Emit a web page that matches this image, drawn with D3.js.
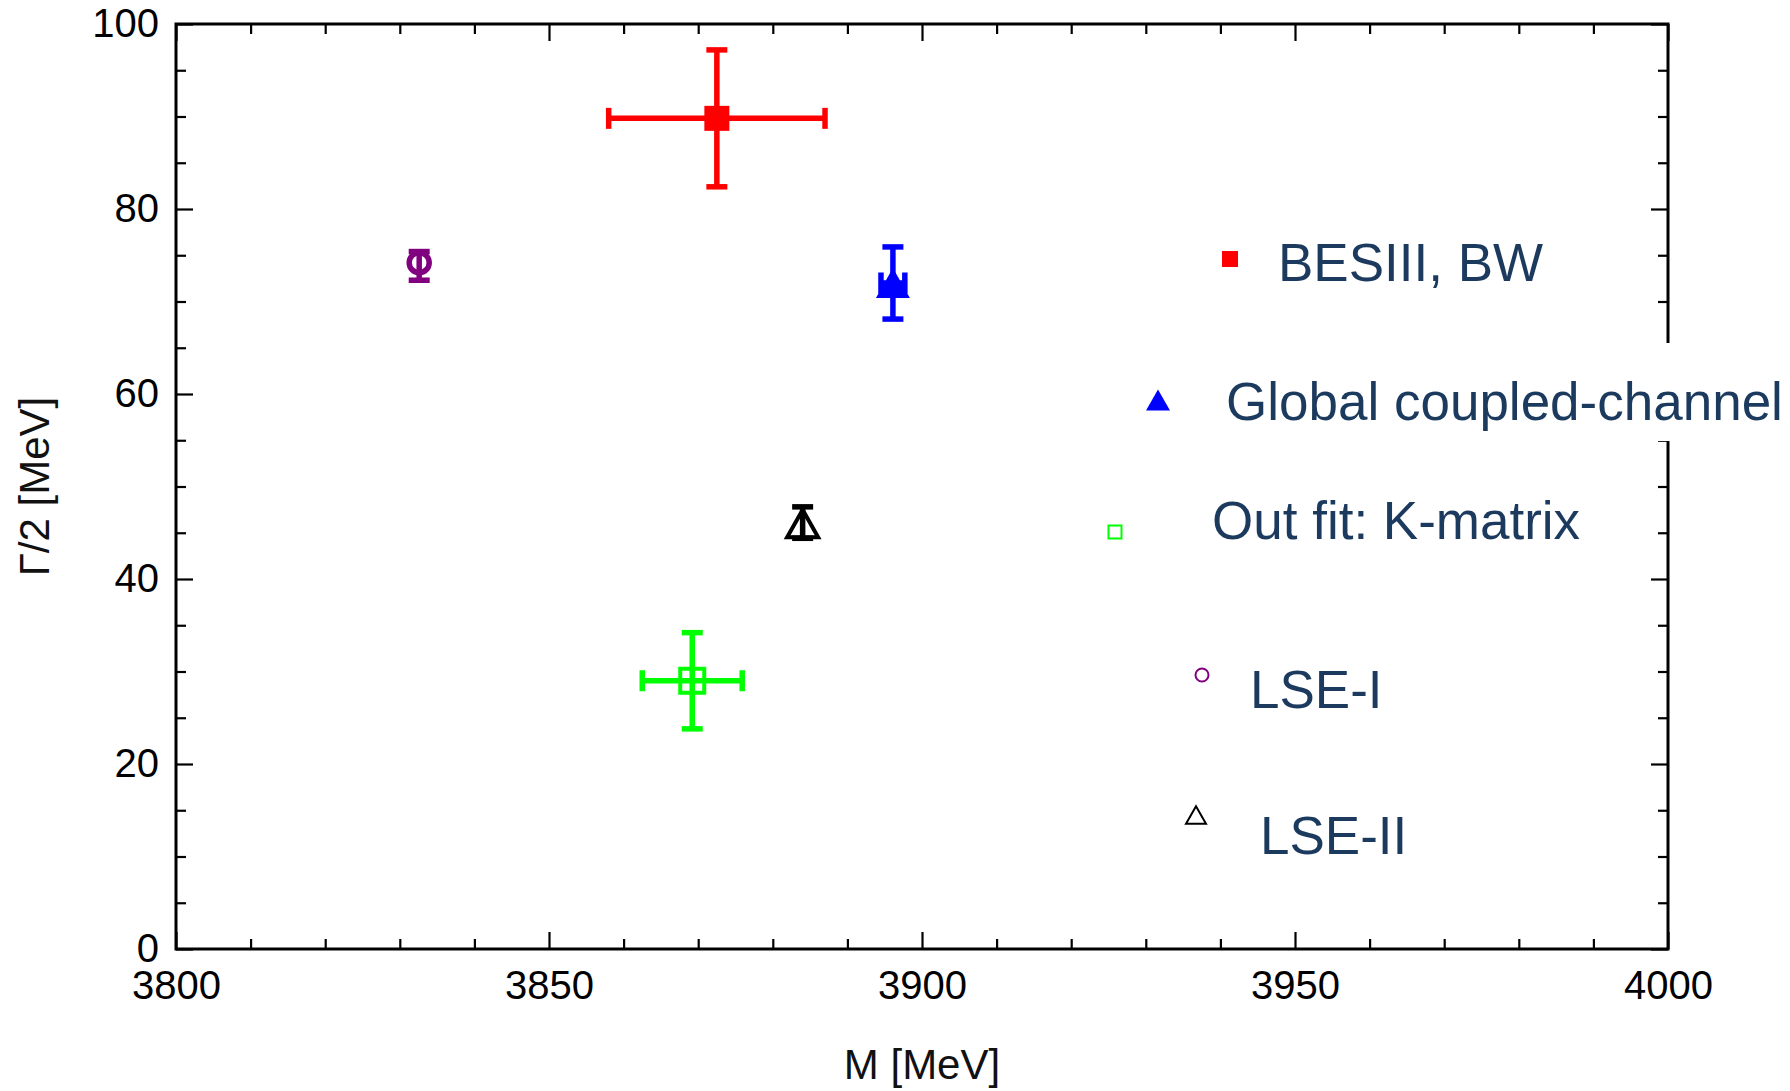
<!DOCTYPE html>
<html>
<head>
<meta charset="utf-8">
<script src="https://cdn.jsdelivr.net/npm/d3@7"></script>
<style>
  body { margin: 0; background: #fff; }
  svg { display: block; font-family: "Liberation Sans", Arial, sans-serif; }
</style>
</head>
<body>
<div id="chart"></div>
<script>
// pole positions
const labels = ['BESIII, BW', 'Global coupled-channel', 'Out fit: K-matrix', 'LSE-I', 'LSE-II'];
const mass = [3872.5, 3896.1, 3869.2, 3832.6, 3884.0];
const massErr = [14.5, 1.6, 6.7, 0, 0];
const halfWidth = [89.8, 72.0, 29.0, 74.2, 46.0];
const halfWidthErrUp = [7.4, 3.9, 5.2, 1.2, 1.8];
const halfWidthErrDown = [7.4, 3.9, 5.2, 1.9, 1.6];
const xTicks = [3800, 3850, 3900, 3950, 4000];
const yTicks = [0, 20, 40, 60, 80, 100];

const W = 1790, H = 1091;
const margin = { top: 24, right: 122, bottom: 142, left: 176 };
const width = W - margin.left - margin.right;
const height = H - margin.top - margin.bottom;

// look of each series (marker, colour)
const styles = [
    { shape: 'square', fill: 'red', stroke: 'none', color: 'red', size: 25 },
    { shape: 'triangle', fill: 'blue', stroke: 'none', color: 'blue', size: 34 },
    { shape: 'square', fill: 'none', stroke: '#00ff00', color: '#00ff00', size: 24, sw: 4 },
    { shape: 'circle', fill: 'none', stroke: 'purple', color: 'purple', size: 20, sw: 5.5 },
    { shape: 'triangle', fill: 'none', stroke: 'black', color: 'black', size: 31, sw: 4 }
];
// legend layout (pixels): marker centre, text start, baseline
const legendLayout = [
    { mx: 1230, my: 259, ms: 16, tx: 1278, ty: 281 },
    { mx: 1158, my: 400, ms: 24, tx: 1226, ty: 420 },
    { mx: 1115, my: 532, ms: 13, tx: 1212, ty: 539, sw: 2 },
    { mx: 1202, my: 675, ms: 13, tx: 1250, ty: 708, sw: 2 },
    { mx: 1196, my: 815, ms: 20, tx: 1260, ty: 854, sw: 2 }
];

const svg = d3.select('#chart').append('svg')
    .attr('width', W).attr('height', H);
const g = svg.append('g')
    .attr('transform', 'translate(' + margin.left + ',' + margin.top + ')');

const x = d3.scaleLinear().domain([3800, 4000]).range([0, width]);
const y = d3.scaleLinear().domain([0, 100]).range([height, 0]);

// frame + ticks (inward on all four sides)
const xMinor = d3.range(3800, 4001, 10).filter(v => xTicks.indexOf(v) < 0);
const yMinor = d3.range(0, 101, 5).filter(v => yTicks.indexOf(v) < 0);

function drawAxis(sel, axisFn, scale, major, minor, showLabels) {
    sel.append('g').call(axisFn(scale).tickValues(minor).tickSize(-10).tickFormat(''))
        .call(a => a.select('.domain').remove());
    const m = sel.append('g').call(axisFn(scale).tickValues(major).tickSize(-17)
        .tickFormat(showLabels ? d3.format('d') : ''));
    m.select('.domain').remove();
    sel.selectAll('line').attr('stroke', '#000').attr('stroke-width', 2.2);
    return m;
}

const bottomAx = g.append('g').attr('transform', 'translate(0,' + height + ')');
drawAxis(bottomAx, d3.axisBottom, x, xTicks, xMinor, true)
    .selectAll('text').attr('font-size', 40).attr('fill', '#000')
    .attr('y', 20).attr('dy', '0.75em');
drawAxis(g.append('g'), d3.axisTop, x, xTicks, xMinor, false);
const leftAx = g.append('g');
drawAxis(leftAx, d3.axisLeft, y, yTicks, yMinor, true)
    .selectAll('text').attr('font-size', 40).attr('fill', '#000').attr('x', -17);
drawAxis(g.append('g').attr('transform', 'translate(' + width + ',0)'), d3.axisRight, y, yTicks, yMinor, false);

g.append('rect').attr('width', width).attr('height', height)
    .attr('fill', 'none').attr('stroke', '#000').attr('stroke-width', 3);

// axis titles
svg.append('text').attr('x', margin.left + width / 2).attr('y', 1079)
    .attr('text-anchor', 'middle').attr('font-size', 42).attr('fill', '#111')
    .text('M [MeV]');
svg.append('text').attr('transform', 'translate(49,' + (margin.top + height / 2) + ') rotate(-90)')
    .attr('text-anchor', 'middle').attr('font-size', 42).attr('fill', '#111')
    .text('\u0393/2 [MeV]');

// markers
function marker(sel, st, size, sw) {
    if (st.shape === 'square') {
        sel.append('rect').attr('x', -size / 2).attr('y', -size / 2)
            .attr('width', size).attr('height', size)
            .attr('fill', st.fill).attr('stroke', st.stroke).attr('stroke-width', sw || 0);
    } else if (st.shape === 'circle') {
        sel.append('circle').attr('r', size / 2)
            .attr('fill', st.fill).attr('stroke', st.stroke).attr('stroke-width', sw || 0);
    } else {
        const h = size * 0.88;
        sel.append('path')
            .attr('d', 'M0,' + (-h / 2) + 'L' + (size / 2) + ',' + (h / 2) + 'L' + (-size / 2) + ',' + (h / 2) + 'Z')
            .attr('fill', st.fill).attr('stroke', st.stroke).attr('stroke-width', sw || 0)
            .attr('stroke-linejoin', 'miter');
    }
}

const cap = 10.5;
const pts = g.selectAll('.pt').data(labels.map((l, i) => i)).enter().append('g').attr('class', 'pt');
pts.each(function (i) {
    const s = d3.select(this);
    const st = styles[i];
    const cx = x(mass[i]), cy = y(halfWidth[i]);
    const eb = s.append('g').attr('stroke', st.color).attr('stroke-width', 5.5);
    if (massErr[i] > 0) {
        const x0 = x(mass[i] - massErr[i]), x1 = x(mass[i] + massErr[i]);
        eb.append('line').attr('x1', x0).attr('x2', x1).attr('y1', cy).attr('y2', cy);
        eb.append('line').attr('x1', x0).attr('x2', x0).attr('y1', cy - cap).attr('y2', cy + cap);
        eb.append('line').attr('x1', x1).attr('x2', x1).attr('y1', cy - cap).attr('y2', cy + cap);
    }
    const y0 = y(halfWidth[i] + halfWidthErrUp[i]), y1 = y(halfWidth[i] - halfWidthErrDown[i]);
    eb.append('line').attr('x1', cx).attr('x2', cx).attr('y1', y0).attr('y2', y1);
    eb.append('line').attr('x1', cx - cap).attr('x2', cx + cap).attr('y1', y0).attr('y2', y0);
    eb.append('line').attr('x1', cx - cap).attr('x2', cx + cap).attr('y1', y1).attr('y2', y1);
    const mk = s.append('g').attr('transform', 'translate(' + cx + ',' + cy + ')');
    marker(mk, st, st.size, st.sw);
});

// legend
const leg = svg.append('g');
leg.append('rect').attr('x', 1220).attr('y', 343).attr('width', 570).attr('height', 98).attr('fill', '#fff');
labels.forEach((l, i) => {
    const p = legendLayout[i];
    marker(leg.append('g').attr('transform', 'translate(' + p.mx + ',' + p.my + ')'), styles[i], p.ms, p.sw);
    leg.append('text').attr('x', p.tx).attr('y', p.ty)
        .attr('font-size', 53).attr('fill', '#1b3a5e').text(l);
});
</script>
</body>
</html>
